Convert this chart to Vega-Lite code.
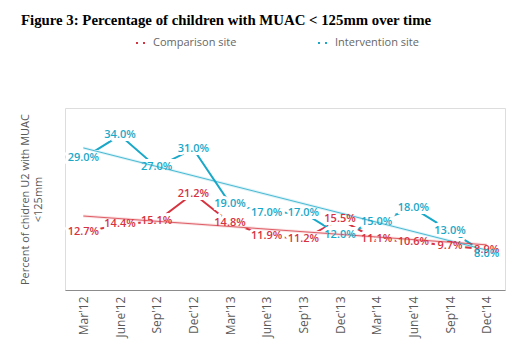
{
  "$schema": "https://vega.github.io/schema/vega-lite/v6.json",
  "width": 440,
  "height": 182,
  "autosize": "none",
  "padding": {"left": 65, "top": 108, "right": 21, "bottom": 68},
  "background": "white",
  "title": {
    "text": "Figure 3: Percentage of children with MUAC < 125mm over time",
    "font": "Liberation Serif",
    "fontSize": 14.8,
    "fontWeight": "bold",
    "color": "#000000",
    "anchor": "start",
    "frame": "group",
    "dx": -44,
    "offset": 9
  },
  "data": {
    "values": [
      {"i": 1, "site": "Comparison site", "value": 0.127},
      {"i": 2, "site": "Comparison site", "value": 0.144},
      {"i": 3, "site": "Comparison site", "value": 0.151},
      {"i": 4, "site": "Comparison site", "value": 0.212},
      {"i": 5, "site": "Comparison site", "value": 0.148},
      {"i": 6, "site": "Comparison site", "value": 0.119},
      {"i": 7, "site": "Comparison site", "value": 0.112},
      {"i": 8, "site": "Comparison site", "value": 0.155},
      {"i": 9, "site": "Comparison site", "value": 0.111},
      {"i": 10, "site": "Comparison site", "value": 0.106},
      {"i": 11, "site": "Comparison site", "value": 0.097},
      {"i": 12, "site": "Comparison site", "value": 0.089},
      {"i": 1, "site": "Intervention site", "value": 0.29},
      {"i": 2, "site": "Intervention site", "value": 0.34},
      {"i": 3, "site": "Intervention site", "value": 0.27},
      {"i": 4, "site": "Intervention site", "value": 0.31},
      {"i": 5, "site": "Intervention site", "value": 0.19},
      {"i": 6, "site": "Intervention site", "value": 0.17},
      {"i": 7, "site": "Intervention site", "value": 0.17},
      {"i": 8, "site": "Intervention site", "value": 0.12},
      {"i": 9, "site": "Intervention site", "value": 0.15},
      {"i": 10, "site": "Intervention site", "value": 0.18},
      {"i": 11, "site": "Intervention site", "value": 0.13},
      {"i": 12, "site": "Intervention site", "value": 0.08}
    ]
  },
  "encoding": {
    "x": {
      "field": "i",
      "type": "quantitative",
      "scale": {"domain": [0.5, 12.5], "nice": false, "zero": false},
      "axis": {
        "values": [1, 2, 3, 4, 5, 6, 7, 8, 9, 10, 11, 12],
        "labelExpr": "[\"Mar'12\", \"June'12\", \"Sep'12\", \"Dec'12\", \"Mar'13\", \"June'13\", \"Sep'13\", \"Dec'13\", \"Mar'14\", \"June'14\", \"Sep'14\", \"Dec'14\"][datum.value - 1]",
        "labelAngle": -90,
        "labelAlign": "right",
        "labelBaseline": "middle",
        "labelFont": "Open Sans",
        "labelFontSize": 12,
        "labelColor": "#595959",
        "labelPadding": 6,
        "ticks": false,
        "grid": false,
        "domainColor": "#8c8c8c",
        "domainWidth": 1,
        "title": null
      }
    },
    "y": {
      "field": "value",
      "type": "quantitative",
      "scale": {"domain": [0, 0.4], "nice": false},
      "axis": {
        "title": ["Percent of chidren U2 with MUAC", "<125mm"],
        "titleFont": "Open Sans",
        "titleFontSize": 11,
        "titleFontWeight": "normal",
        "titleColor": "#595959",
        "titleLineHeight": 13,
        "titleX": -37,
        "titleY": 91,
        "titleAngle": -90,
        "titleAlign": "center",
        "titleBaseline": "alphabetic",
        "labels": false,
        "ticks": false,
        "domain": false,
        "grid": false
      }
    },
    "color": {
      "field": "site",
      "type": "nominal",
      "scale": {"domain": ["Comparison site", "Intervention site"], "range": ["#d6333f", "#1aa8c8"]},
      "legend": {
        "title": null,
        "orient": "none",
        "direction": "horizontal",
        "legendX": 70,
        "legendY": -71,
        "symbolType": "stroke",
        "symbolDash": [2, 5],
        "symbolStrokeWidth": 2,
        "symbolSize": 100,
        "symbolOpacity": 1,
        "labelFont": "Open Sans",
        "labelFontSize": 11,
        "labelColor": "#666666",
        "columnPadding": 77,
        "labelOffset": 6
      }
    }
  },
  "layer": [
    {
      "mark": {"type": "line", "strokeWidth": 2}
    },
    {
      "mark": {"type": "text", "font": "Open Sans", "fontSize": 11, "fontWeight": 600, "stroke": "white", "strokeWidth": 6, "fill": "white"},
      "encoding": {
        "text": {"field": "value", "format": ".1%"},
        "color": {"value": "white"}
      }
    },
    {
      "transform": [{"regression": "value", "on": "i", "groupby": ["site"]}],
      "mark": {"type": "line", "strokeWidth": 3, "opacity": 0.15}
    },
    {
      "transform": [{"regression": "value", "on": "i", "groupby": ["site"]}],
      "mark": {"type": "line", "strokeWidth": 0.9, "opacity": 0.85}
    },
    {
      "mark": {"type": "text", "font": "Open Sans", "fontSize": 11, "fontWeight": 600},
      "encoding": {
        "text": {"field": "value", "format": ".1%"}
      }
    }
  ]
}
